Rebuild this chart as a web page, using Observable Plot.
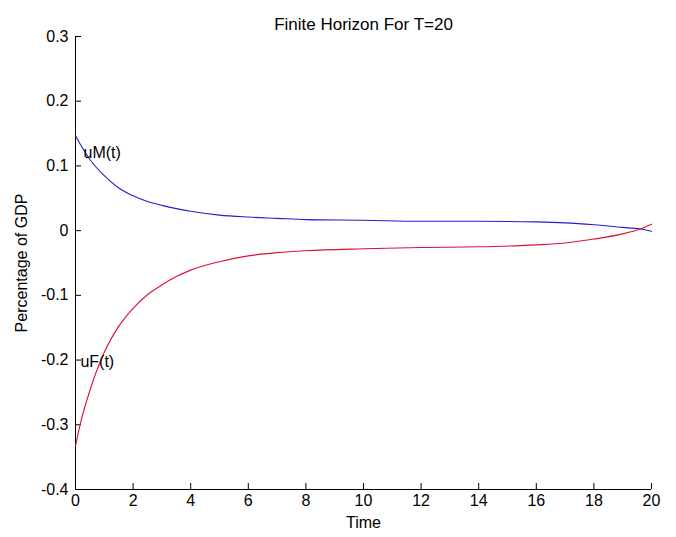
<!DOCTYPE html>
<html>
<head>
<meta charset="utf-8">
<script src="https://cdn.jsdelivr.net/npm/d3@7"></script>
<script src="https://cdn.jsdelivr.net/npm/@observablehq/plot@0.6"></script>
<style>
  html, body { margin: 0; padding: 0; background: #fff; }
  svg { display: block; }
</style>
</head>
<body>
<div id="chart"></div>
<script>
// Time points
const time = [0, 0.17, 0.5, 1, 1.5, 2, 2.5, 3, 3.5, 4, 5, 6, 7, 8, 10, 12, 14, 16, 17, 18, 19, 19.6, 20];
// Series values (percentage of GDP)
const uM = [0.147, 0.133, 0.110, 0.085, 0.066, 0.054, 0.045, 0.039, 0.034, 0.030, 0.024, 0.021, 0.019, 0.017, 0.016, 0.0145, 0.0145, 0.0135, 0.012, 0.009, 0.005, 0.0025, -0.001];
const uF = [-0.333, -0.298, -0.247, -0.188, -0.148, -0.120, -0.099, -0.084, -0.071, -0.061, -0.048, -0.039, -0.034, -0.031, -0.028, -0.026, -0.025, -0.022, -0.019, -0.013, -0.005, 0.0025, 0.010];
// Tick labels
const xTicks = [0, 2, 4, 6, 8, 10, 12, 14, 16, 18, 20];
const yTicks = [-0.4, -0.3, -0.2, -0.1, 0, 0.1, 0.2, 0.3];
// Curve annotations
const labelText = ["uM(t)", "uF(t)"];
const labelT = [0.28, 0.17];
const labelV = [0.12, -0.203];

const title = "Finite Horizon For T=20";
const xLabel = "Time";
const yLabel = "Percentage of GDP";

const W = 676, H = 537;
const mL = 75, mR = 25, mT = 36, mB = 48;
const plotH = H - mT - mB;
const plotW = W - mL - mR;

const mData = time.map((t, i) => ({t, v: uM[i]}));
const fData = time.map((t, i) => ({t, v: uF[i]}));
const labels = labelText.map((s, i) => ({s, t: labelT[i], v: labelV[i]}));

const font = "Arial, 'Liberation Sans', Helvetica, sans-serif";

const chart = Plot.plot({
  width: W,
  height: H,
  marginLeft: mL,
  marginRight: mR,
  marginTop: mT,
  marginBottom: mB,
  style: {fontFamily: font, fontSize: "16px", color: "#000", background: "#fff", overflow: "visible"},
  x: {domain: [0, 20], axis: null},
  y: {domain: [-0.4, 0.3], axis: null},
  marks: [
    // axis lines (left and bottom only)
    Plot.ruleX([0], {stroke: "#000", strokeWidth: 1}),
    Plot.ruleY([-0.4], {stroke: "#000", strokeWidth: 1}),
    // inward ticks
    Plot.tickX(xTicks, {x: d => d, insetTop: plotH - 6, stroke: "#000"}),
    Plot.tickY(yTicks, {y: d => d, insetRight: plotW - 6, stroke: "#000"}),
    // tick labels
    Plot.axisX({ticks: xTicks, tickSize: 0, tickPadding: 5, tickFormat: d => String(d), fontSize: 16, label: null}),
    Plot.axisY({ticks: yTicks, tickSize: 0, tickPadding: 7, tickFormat: d => String(+d.toFixed(1)), fontSize: 16, label: null}),
    // series
    Plot.line(mData, {x: "t", y: "v", stroke: "#2222cc", strokeWidth: 1.1, curve: "monotone-x"}),
    Plot.line(fData, {x: "t", y: "v", stroke: "#dd1133", strokeWidth: 1.1, curve: "monotone-x"}),
    // annotations
    Plot.text(labels, {x: "t", y: "v", text: "s", textAnchor: "start", fontSize: 16, fill: "#000"}),
    // title and axis labels
    Plot.text([title], {frameAnchor: "top", dy: -19, fontSize: 17, fill: "#000"}),
    Plot.text([xLabel], {frameAnchor: "bottom", dy: 38, fontSize: 16, fill: "#000"}),
    Plot.text([yLabel], {frameAnchor: "left", dx: -54, rotate: -90, textAnchor: "middle", fontSize: 16, fill: "#000"})
  ]
});
document.getElementById("chart").appendChild(chart);
</script>
</body>
</html>
